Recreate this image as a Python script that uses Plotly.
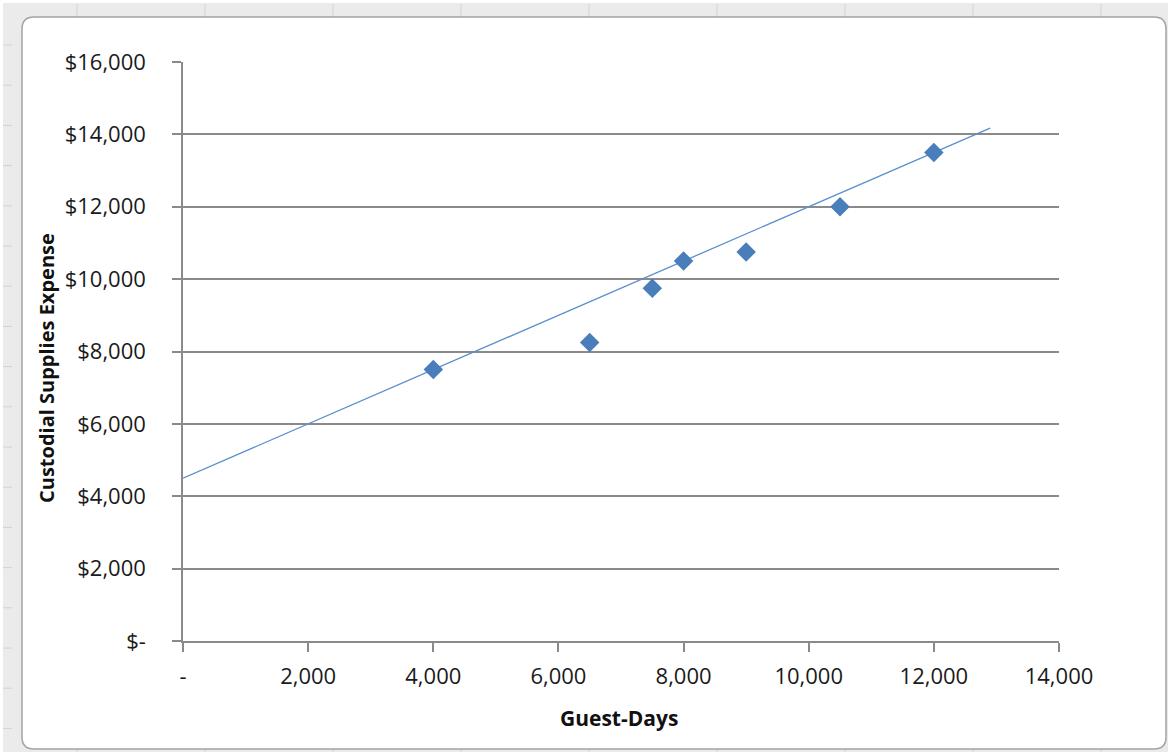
import plotly.graph_objects as go

# ---- data ----
guest_days = [4000, 6500, 7500, 8000, 9000, 10500, 12000]
expense = [7500, 8250, 9750, 10500, 10750, 12000, 13500]

trend_x = [0, 12900]
trend_y = [4500, 14175]

y_tickvals = [0, 2000, 4000, 6000, 8000, 10000, 12000, 14000, 16000]
y_ticktext = ["$-", "$2,000", "$4,000", "$6,000", "$8,000", "$10,000", "$12,000", "$14,000", "$16,000"]
x_tickvals = [0, 2000, 4000, 6000, 8000, 10000, 12000, 14000]
x_ticktext = ["-", "2,000", "4,000", "6,000", "8,000", "10,000", "12,000", "14,000"]

# ---- layout geometry (pixels) ----
W, H = 1170, 755
L, R, T, B = 183, 1059, 62, 641


def px(x):
    return (x - L) / (R - L)


def py(y):
    return (B - y) / (B - T)


FONT = "Open Sans, Liberation Sans, sans-serif"
AXC = "#8a8a8a"

fig = go.Figure()
fig.add_trace(go.Scatter(
    x=trend_x, y=trend_y, mode="lines",
    line=dict(color="#5b8fd0", width=1.3),
    hoverinfo="skip", showlegend=False,
))
fig.add_trace(go.Scatter(
    x=guest_days, y=expense, mode="markers",
    marker=dict(symbol="diamond", size=15, color="#4a7ebb", line=dict(width=0)),
    showlegend=False,
))

shapes = []
# outer grey selection band
shapes.append(dict(type="rect", xref="paper", yref="paper",
                   x0=px(3), x1=px(1168), y0=py(752), y1=py(3),
                   fillcolor="#ebebeb", line=dict(width=0), layer="below"))
# faint spreadsheet grid lines in the band
for gx in [77, 205, 333, 461, 589, 717, 845, 973, 1101]:
    shapes.append(dict(type="line", xref="paper", yref="paper",
                       x0=px(gx), x1=px(gx), y0=py(4), y1=py(17),
                       line=dict(color="#d2d2d2", width=1), layer="below"))
    shapes.append(dict(type="line", xref="paper", yref="paper",
                       x0=px(gx), x1=px(gx), y0=py(749), y1=py(752),
                       line=dict(color="#d2d2d2", width=1), layer="below"))
gy = 45
while gy < 745:
    shapes.append(dict(type="line", xref="paper", yref="paper",
                       x0=px(3), x1=px(12), y0=py(gy), y1=py(gy),
                       line=dict(color="#d2d2d2", width=1), layer="below"))
    gy += 40.2

# white rounded chart area
x0, x1, y0, y1, r = 22, 1166, 17, 749, 12
path = (f"M {px(x0 + r)},{py(y0)} L {px(x1 - r)},{py(y0)} "
        f"Q {px(x1)},{py(y0)} {px(x1)},{py(y0 + r)} "
        f"L {px(x1)},{py(y1 - r)} Q {px(x1)},{py(y1)} {px(x1 - r)},{py(y1)} "
        f"L {px(x0 + r)},{py(y1)} Q {px(x0)},{py(y1)} {px(x0)},{py(y1 - r)} "
        f"L {px(x0)},{py(y0 + r)} Q {px(x0)},{py(y0)} {px(x0 + r)},{py(y0)} Z")
shapes.append(dict(type="path", xref="paper", yref="paper", path=path,
                   fillcolor="white", line=dict(color="#a3a3a3", width=1.5),
                   layer="below"))

annotations = [
    dict(text="<b>Custodial Supplies Expense</b>", textangle=-90,
         xref="paper", yref="paper", x=px(46), y=py(368),
         xanchor="center", yanchor="middle", showarrow=False,
         font=dict(family=FONT, size=20, color="#111111")),
    dict(text="<b>Guest-Days</b>", xref="paper", yref="paper",
         x=px(619), y=py(718), xanchor="center", yanchor="middle",
         showarrow=False, font=dict(family=FONT, size=21, color="#111111")),
]

fig.update_layout(
    width=W, height=H,
    margin=dict(l=L, r=W - R, t=T, b=H - B, pad=0),
    paper_bgcolor="white",
    plot_bgcolor="rgba(0,0,0,0)",
    font=dict(family=FONT, size=22, color="#1a1a1a"),
    shapes=shapes,
    annotations=annotations,
    showlegend=False,
    xaxis=dict(range=[0, 14000], tickvals=x_tickvals, ticktext=x_ticktext,
               showgrid=False, zeroline=False, showline=True,
               linecolor=AXC, linewidth=1.5, ticks="outside", ticklen=9,
               tickcolor=AXC, tickwidth=1.5, ticklabelstandoff=6,
               fixedrange=True),
    yaxis=dict(range=[0, 16000], tickvals=y_tickvals, ticktext=y_ticktext,
               showgrid=True, gridcolor=AXC, gridwidth=1.5,
               zeroline=False, showline=True,
               linecolor=AXC, linewidth=1.5, ticks="outside", ticklen=9,
               tickcolor=AXC, tickwidth=1.5, ticklabelstandoff=22,
               fixedrange=True),
)

fig.write_html("out.html", config={"displayModeBar": False},
               post_script="document.body.style.margin='0';document.body.style.overflow='hidden';")
